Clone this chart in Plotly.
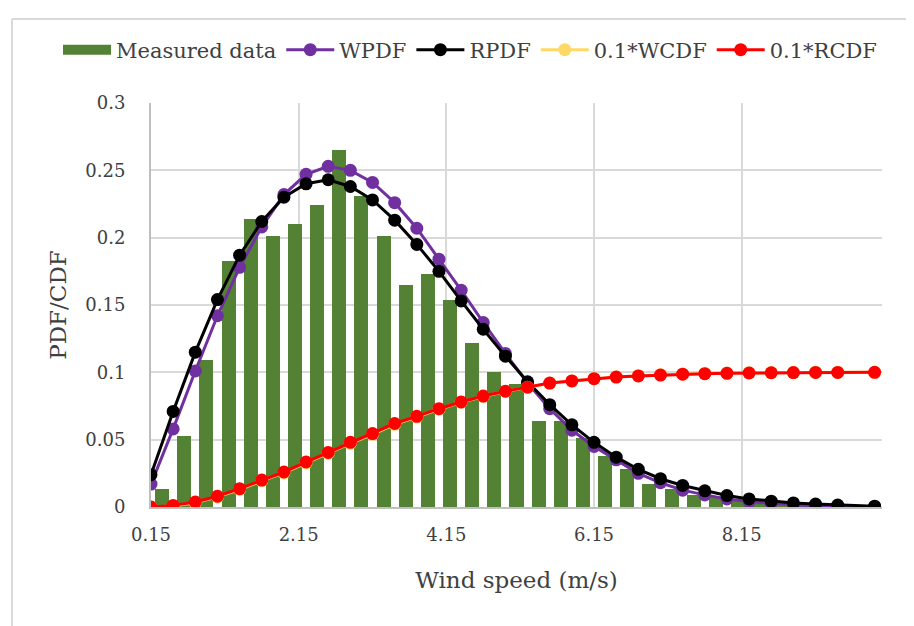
import plotly.graph_objects as go

# ---- data ----
bar_x = [0.3, 0.6, 0.9, 1.2, 1.5, 1.8, 2.1, 2.4, 2.7, 3.0, 3.3, 3.6, 3.9, 4.2, 4.5, 4.8,
         5.1, 5.4, 5.7, 6.0, 6.3, 6.6, 6.9, 7.2, 7.5, 7.8, 8.1, 8.4, 8.7, 9.0, 9.3, 9.6, 9.9]
measured = [0.0136, 0.0525, 0.109, 0.183, 0.214, 0.201, 0.210, 0.224, 0.265, 0.231, 0.2015,
            0.165, 0.173, 0.1535, 0.122, 0.100, 0.091, 0.064, 0.064, 0.051, 0.038, 0.0285,
            0.017, 0.0136, 0.0087, 0.0075, 0.0055, 0.003, 0.002, 0.001, 0.0008, 0.0005, 0.0002]

line_x = [0.15, 0.45, 0.75, 1.05, 1.35, 1.65, 1.95, 2.25, 2.55, 2.85, 3.15, 3.45, 3.75, 4.05,
          4.35, 4.65, 4.95, 5.25, 5.55, 5.85, 6.15, 6.45, 6.75, 7.05, 7.35, 7.65, 7.95, 8.25,
          8.55, 8.85, 9.15, 9.45, 9.95]
wpdf = [0.017, 0.058, 0.101, 0.142, 0.178, 0.208, 0.232, 0.247, 0.253, 0.250, 0.241, 0.226,
        0.207, 0.184, 0.161, 0.137, 0.114, 0.092, 0.073, 0.057, 0.045, 0.035, 0.025, 0.018,
        0.0125, 0.009, 0.006, 0.004, 0.0025, 0.0015, 0.0009, 0.0005, 0.0001]
rpdf = [0.024, 0.071, 0.115, 0.154, 0.187, 0.212, 0.230, 0.240, 0.243, 0.238, 0.228, 0.213,
        0.195, 0.175, 0.153, 0.132, 0.112, 0.093, 0.076, 0.061, 0.048, 0.037, 0.028, 0.021,
        0.016, 0.012, 0.0085, 0.006, 0.0043, 0.003, 0.0022, 0.0015, 0.0006]
wcdf = [0.0, 0.0008, 0.0032, 0.0075, 0.013, 0.0195, 0.0253, 0.0327, 0.0398, 0.0473, 0.054,
        0.0614, 0.0668, 0.0726, 0.0777, 0.0821, 0.0858, 0.0889, 0.0919, 0.0936, 0.0953,
        0.0966, 0.0975, 0.0982, 0.0988, 0.0992, 0.0995, 0.0997, 0.0998, 0.0999, 0.0999,
        0.1, 0.1]
rcdf = [0.0, 0.0012, 0.0037, 0.008, 0.0136, 0.020, 0.026, 0.0334, 0.0405, 0.048, 0.0545,
        0.062, 0.0673, 0.073, 0.078, 0.0824, 0.086, 0.089, 0.092, 0.0936, 0.0953, 0.0965,
        0.0973, 0.098, 0.0986, 0.099, 0.0993, 0.0995, 0.0997, 0.0998, 0.0999, 0.0999, 0.1]

x_ticks = [0.15, 2.15, 4.15, 6.15, 8.15]
x_tick_labels = ["0.15", "2.15", "4.15", "6.15", "8.15"]
y_ticks = [0, 0.05, 0.1, 0.15, 0.2, 0.25, 0.3]
y_tick_labels = ["0", "0.05", "0.1", "0.15", "0.2", "0.25", "0.3"]

FONT = "DejaVu Serif"
GREEN = "#548235"
fig = go.Figure()
fig.add_trace(go.Bar(x=bar_x, y=measured, width=0.19, name="Measured data", showlegend=False,
                     legendgroup="m", marker=dict(color=GREEN, line=dict(width=0))))
# legend-only entry giving the wide rectangular swatch of the original legend
fig.add_trace(go.Scatter(x=[None], y=[None], name="Measured data", mode="lines",
                         legendgroup="m", line=dict(color=GREEN, width=14)))
line_specs = [("WPDF", wpdf, "#7030A0"), ("RPDF", rpdf, "#000000"),
              ("0.1*WCDF", wcdf, "#FFD966"), ("0.1*RCDF", rcdf, "#FF0000")]
for name, vals, col in line_specs:
    fig.add_trace(go.Scatter(x=line_x, y=vals, name=name, mode="lines+markers",
                             line=dict(color=col, width=3),
                             marker=dict(color=col, size=13, line=dict(width=0))))

# page is offset by 8px body margin; figure sized accordingly
OFF = 8
W, H = 906, 618
L, T = 151 - OFF, 103 - OFF
PW, PH = 731, 404
R, B = W - L - PW, H - T - PH

def px_x(px):
    return (px - OFF - L) / PW

def px_y(py):
    return (T + PH - (py - OFF)) / PH

fig.update_layout(
    width=W, height=H,
    margin=dict(l=L, r=R, t=T, b=B, pad=0),
    paper_bgcolor="white", plot_bgcolor="white",
    font=dict(family=FONT, color="#404040", size=18),
    bargap=0,
    showlegend=True,
    legend=dict(orientation="h", x=px_x(58), xanchor="left", y=px_y(50), yanchor="middle",
                font=dict(family=FONT, size=21, color="#404040"), itemwidth=48,
                tracegroupgap=0, bgcolor="rgba(0,0,0,0)"),
    xaxis=dict(range=[0.15, 10.05], tickvals=x_ticks, ticktext=x_tick_labels,
               showgrid=True, gridcolor="#D9D9D9", gridwidth=2,
               showline=True, linecolor="#BFBFBF", linewidth=2, zeroline=False,
               ticks="", tickfont=dict(size=18, color="#404040"), ticklabelstandoff=10,
               title=dict(text="Wind speed (m/s)", font=dict(size=23, color="#404040"), standoff=28)),
    yaxis=dict(range=[0, 0.3], tickvals=y_ticks, ticktext=y_tick_labels,
               showgrid=True, gridcolor="#D9D9D9", gridwidth=2,
               showline=True, linecolor="#BFBFBF", linewidth=2, zeroline=False,
               ticks="", tickfont=dict(size=18, color="#404040"), ticklabelstandoff=20,
               title=dict(text="PDF/CDF", font=dict(size=23, color="#404040"), standoff=12)),
)
# outer chart border (left and top visible)
fig.add_shape(type="line", xref="paper", yref="paper", x0=px_x(12), x1=px_x(914),
              y0=px_y(19), y1=px_y(19), line=dict(color="#D9D9D9", width=2))
fig.add_shape(type="line", xref="paper", yref="paper", x0=px_x(12), x1=px_x(12),
              y0=px_y(19), y1=px_y(626), line=dict(color="#D9D9D9", width=2))

fig.write_html("out.html")
